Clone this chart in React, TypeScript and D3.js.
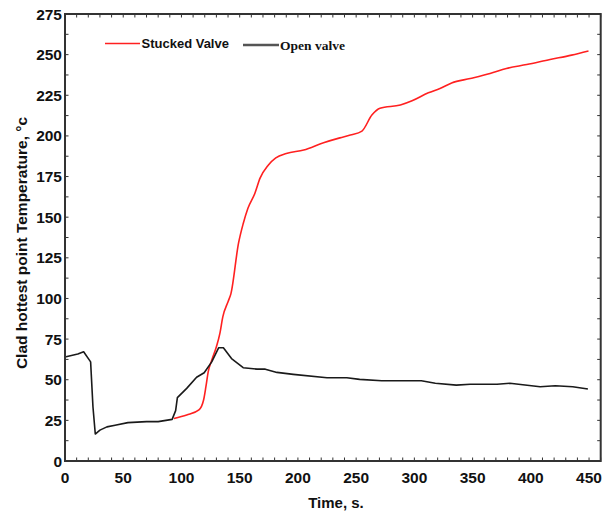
import React from "react";
import * as d3 from "d3";

const openTime = [0, 11, 16, 22, 24, 26, 30, 36, 43, 54, 70, 80, 92, 95, 96.5, 104.5, 113, 119.5, 126, 132, 136, 143, 153, 165, 172, 182, 196, 225, 242, 253, 272, 306, 318, 336, 348, 371, 382, 408, 421, 436, 449];
const openTemp = [64, 65.8, 67.2, 61, 33.4, 16.6, 19, 21, 22, 23.6, 24.2, 24.2, 25.6, 31, 39, 44.7, 51.5, 54.3, 61, 69.7, 69.7, 63, 57.4, 56.5, 56.5, 54.5, 53.3, 51.2, 51.2, 50.2, 49.4, 49.4, 47.8, 46.7, 47.2, 47.2, 47.8, 45.7, 46.3, 45.7, 44.3];

const stuckTime = [93.5, 104.5, 115, 119, 121, 123, 126, 130, 133, 135.5, 140, 142.5, 149, 153, 157, 163, 167.5, 174.5, 181, 190, 205, 222, 236, 245, 255, 263.5, 270.5, 288, 298, 312, 322, 332, 348, 365, 379, 396.5, 416.5, 435, 449.5];
const stuckTemp = [26.2, 28.3, 31.4, 37.5, 45.7, 55, 62, 70.3, 78.5, 88.7, 98, 103, 134, 146, 155.4, 164.6, 174, 182, 186.5, 189.2, 191.3, 195.8, 198.8, 200.5, 203, 212.8, 217, 219, 221.6, 226.5, 229.2, 232.6, 235.3, 238.4, 241.5, 243.9, 247, 249.7, 252.3];

const xTickLabels = [0, 50, 100, 150, 200, 250, 300, 350, 400, 450];
const yTickLabels = [0, 25, 50, 75, 100, 125, 150, 175, 200, 225, 250, 275];
const seriesNames = ["Stucked Valve", "Open valve"];

export default function App() {
  const W = 611, H = 515;
  const left = 65, right = 600.7, top = 14, bottom = 461;
  const x = d3.scaleLinear().domain([0, 460]).range([left, right]);
  const y = d3.scaleLinear().domain([0, 275]).range([bottom, top]);
  const line = d3.line<[number, number]>().x(d => x(d[0])).y(d => y(d[1]));
  const smooth = d3.line<[number, number]>().x(d => x(d[0])).y(d => y(d[1])).curve(d3.curveMonotoneX);
  const openPts = openTime.map((t, i) => [t, openTemp[i]] as [number, number]);
  const stuckPts = stuckTime.map((t, i) => [t, stuckTemp[i]] as [number, number]);
  const xMinor = d3.range(0, 461, 10);
  const yMinor = d3.range(0, 275.1, 12.5);
  const tl = 3.5;
  const frameColor = "#333";
  const font = "'Liberation Sans', Arial, sans-serif";
  return (
    <svg width={W} height={H} style={{ position: "absolute", left: 0, top: 0 }}>
      <rect width={W} height={H} fill="#fff" />
      {xMinor.map(v => (
        <g key={"xt" + v} stroke={frameColor} strokeWidth={1}>
          <line x1={x(v)} x2={x(v)} y1={bottom} y2={bottom - tl} />
          <line x1={x(v)} x2={x(v)} y1={top} y2={top + tl} />
        </g>
      ))}
      {yMinor.map(v => (
        <g key={"yt" + v} stroke={frameColor} strokeWidth={1}>
          <line x1={left} x2={left + tl} y1={y(v)} y2={y(v)} />
          <line x1={right} x2={right - tl} y1={y(v)} y2={y(v)} />
        </g>
      ))}
      {xTickLabels.map(v => (
        <text key={"xl" + v} x={x(v)} y={483} textAnchor="middle" fontFamily={font} fontWeight="bold" fontSize={15.5} fill="#111">{v}</text>
      ))}
      {yTickLabels.map(v => (
        <text key={"yl" + v} x={62} y={y(v) + 5.5} textAnchor="end" fontFamily={font} fontWeight="bold" fontSize={15.5} fill="#111">{v}</text>
      ))}
      <path d={smooth(stuckPts) || ""} fill="none" stroke="#ff2020" strokeWidth={1.6} strokeLinejoin="round" />
      <path d={line(openPts) || ""} fill="none" stroke="#1a1a1a" strokeWidth={1.6} strokeLinejoin="round" />
      <rect x={left} y={top} width={right - left} height={bottom - top} fill="none" stroke={frameColor} strokeWidth={2} />
      <line x1={105} x2={140} y1={43.5} y2={43.5} stroke="#ff2020" strokeWidth={1.5} />
      <text x={141.5} y={48} fontFamily={font} fontWeight="bold" fontSize={13} fill="#111">{seriesNames[0]}</text>
      <line x1={243} x2={279} y1={45} y2={45} stroke="#555" strokeWidth={2.5} />
      <text x={280} y={49.5} fontFamily="'Liberation Serif', 'Times New Roman', serif" fontWeight="bold" fontSize={13.5} fill="#111">{seriesNames[1]}</text>
      <text x={336} y={508} textAnchor="middle" fontFamily={font} fontWeight="bold" fontSize={15} fill="#111">Time, s.</text>
      <text transform="translate(27,243) rotate(-90)" textAnchor="middle" fontFamily={font} fontWeight="bold" fontSize={15.5} fill="#111">Clad hottest point Temperature, °c</text>
    </svg>
  );
}
